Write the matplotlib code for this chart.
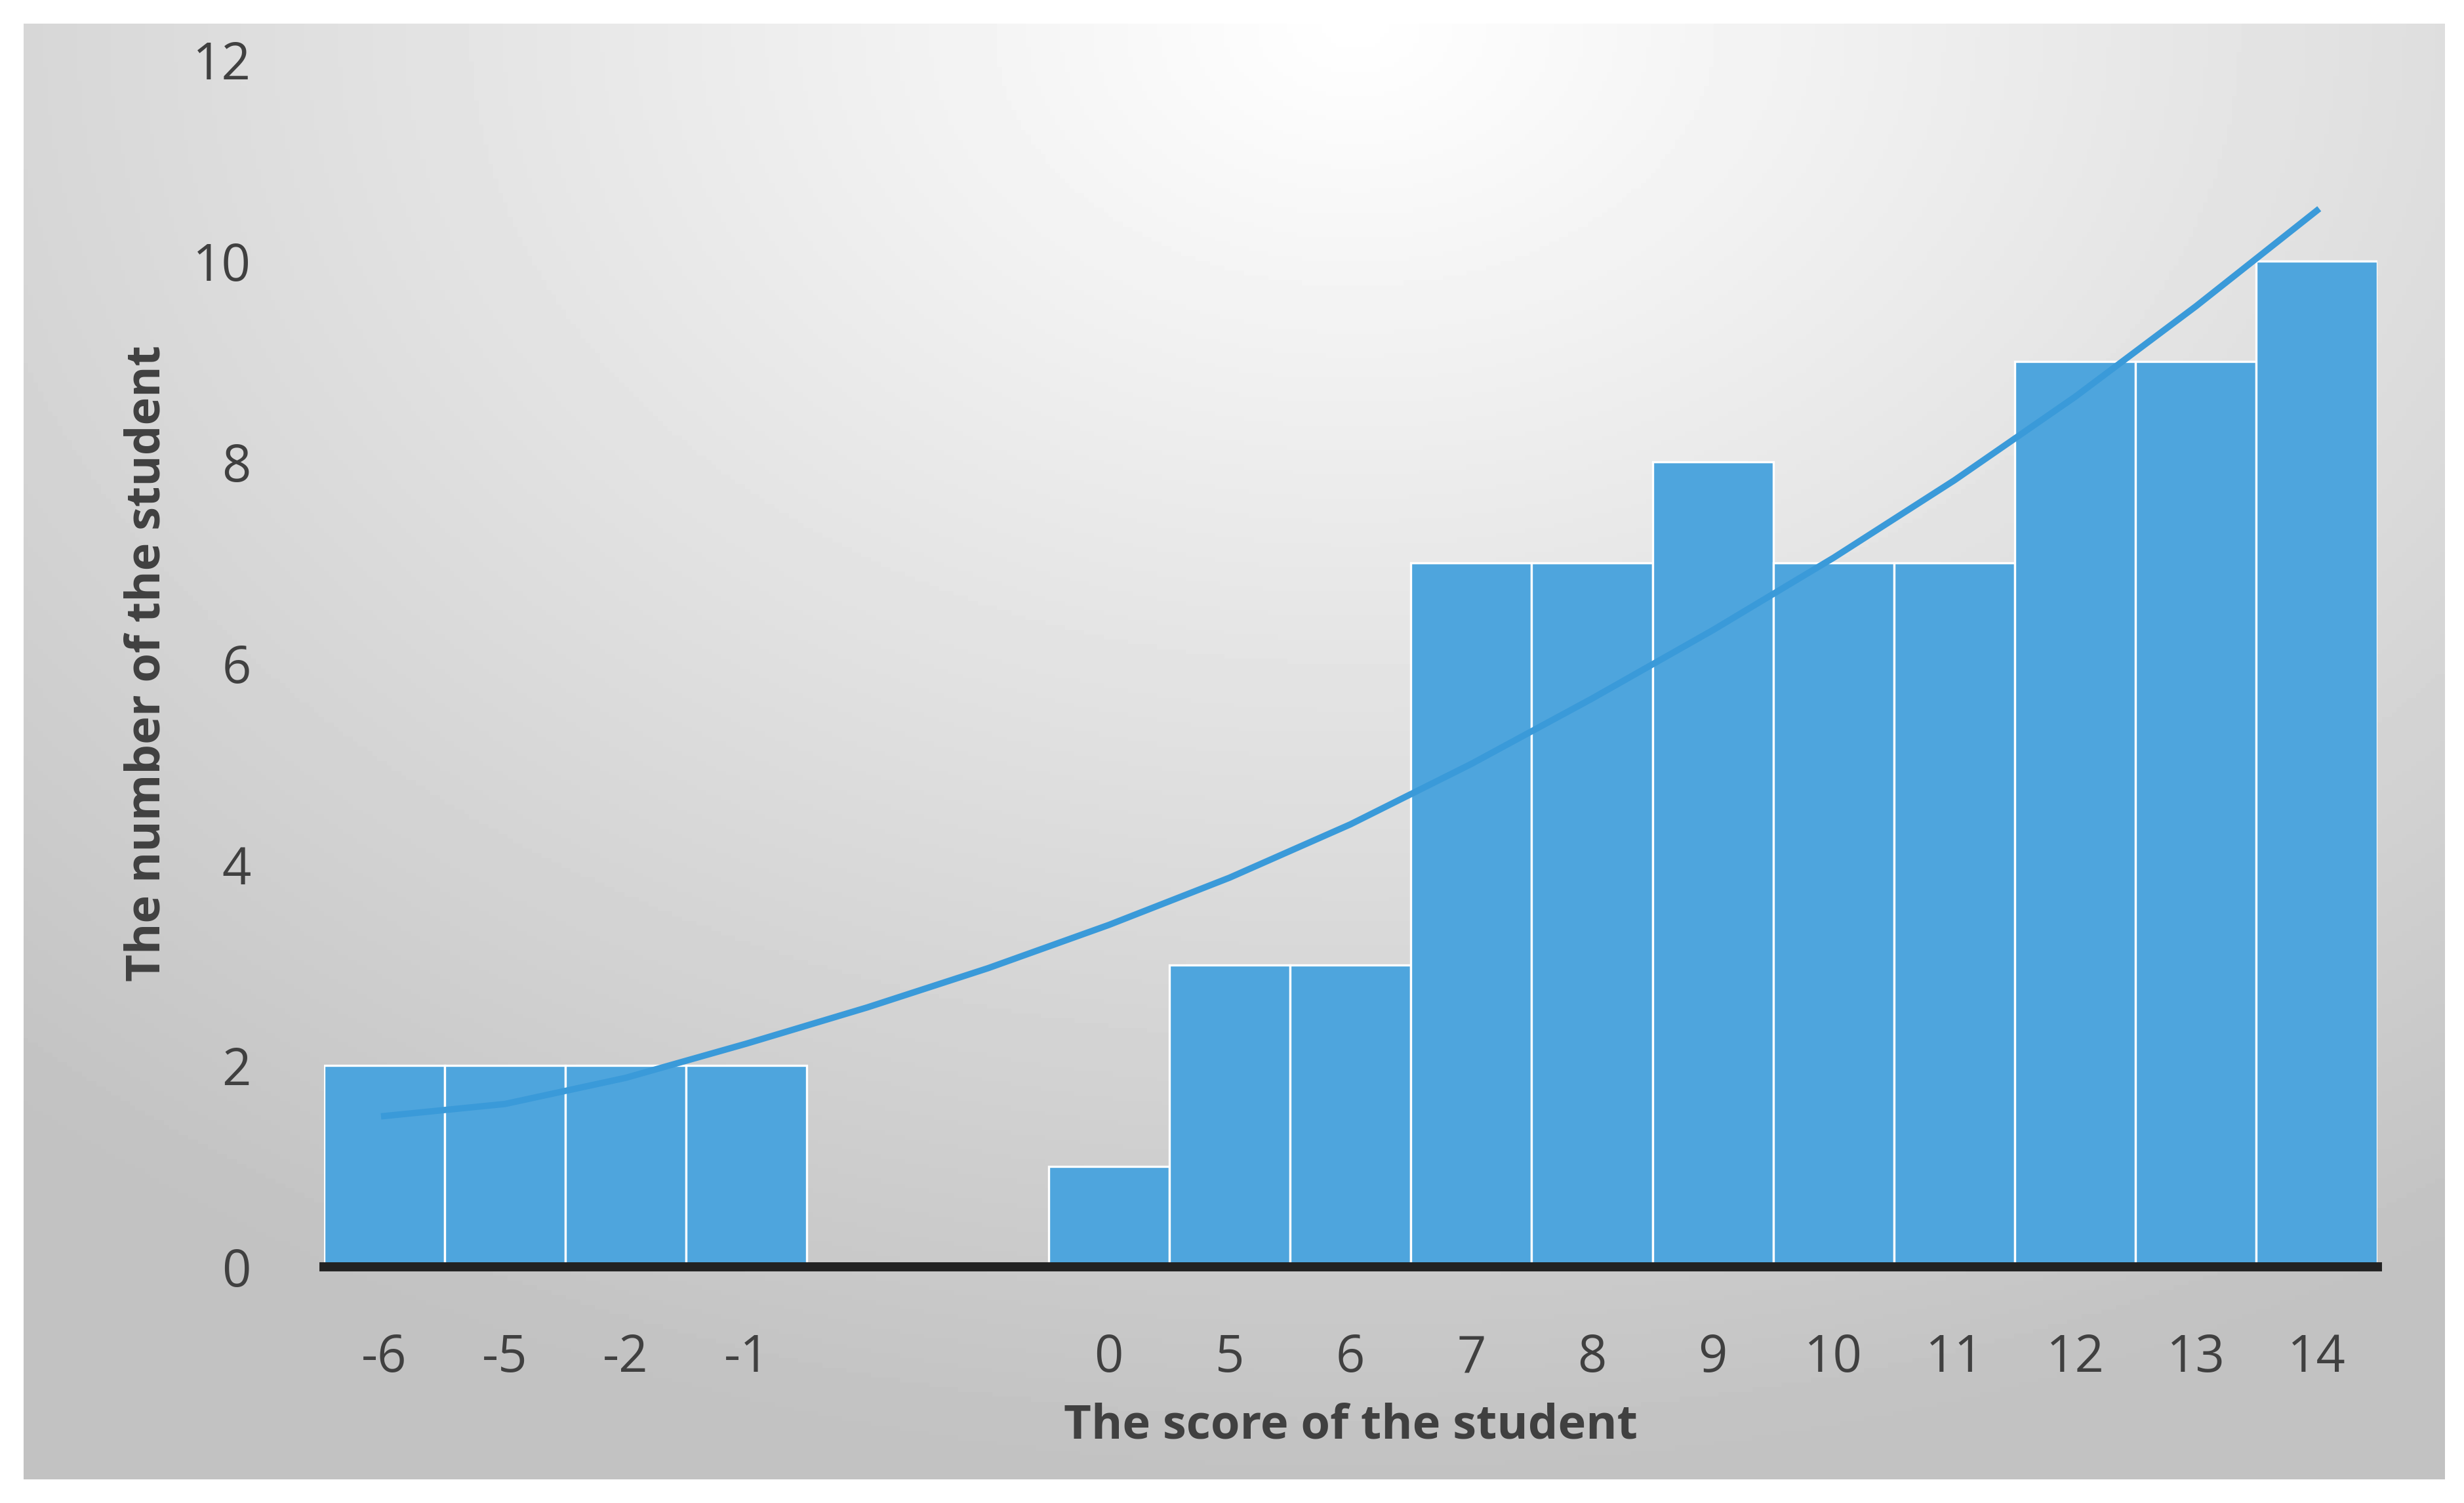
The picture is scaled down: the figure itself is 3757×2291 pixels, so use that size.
import numpy as np
import matplotlib.pyplot as plt

# categories on the x axis; two empty slots between -1 and 0
categories = ['-6', '-5', '-2', '-1', '', '', '0', '5', '6', '7', '8', '9', '10', '11', '12', '13', '14']
counts = [2, 2, 2, 2, 0, 0, 1, 3, 3, 7, 7, 8, 7, 7, 9, 9, 10]
# trend line, one value per slot
trend = [1.5, 1.62, 1.88, 2.22, 2.58, 2.97, 3.4, 3.87, 4.4, 5.0, 5.65, 6.33, 7.05, 7.82, 8.65, 9.55, 10.5]

fig = plt.figure(figsize=(18.785, 11.455), dpi=200)

# gray radial background panel
bg = fig.add_axes([15/1560, 15/955, 1533/1560, 925/955])
yy, xx = np.mgrid[0:1:300j, 0:1:500j]
r = np.sqrt(((xx - 0.55) * 1.2) ** 2 + (yy - 0.0) ** 2)
shade = np.clip(1.0 - 0.24 * r, 0.76, 1.0)
bg.imshow(shade, cmap='gray', vmin=0, vmax=1, aspect='auto', extent=[0, 1, 0, 1])
bg.axis('off')

ax = fig.add_axes([205/1560, 1 - 805/955, 1300/1560, (805-38)/955])
ax.patch.set_alpha(0)
x = np.arange(len(categories))
ax.bar(x, counts, width=1.0, color='#4EA5DD', edgecolor='white', linewidth=1.2, zorder=2)
ax.plot(x, trend, color='#3A9AD9', linewidth=3.5, zorder=3)

ax.set_xlim(-0.5, len(categories) - 0.5)
ax.set_ylim(0, 12)
ax.set_yticks(range(0, 13, 2))
ax.set_xticks(x)
ax.set_xticklabels(categories)
ax.tick_params(length=0, labelsize=28, colors='#404040')
ax.tick_params(axis='x', pad=36)
ax.tick_params(axis='y', pad=40)
for s in ['top', 'right', 'left']:
    ax.spines[s].set_visible(False)
ax.spines['bottom'].set_linewidth(5)
ax.spines['bottom'].set_color('#222222')
ax.spines['bottom'].set_zorder(4)
for t in ax.get_xticklabels() + ax.get_yticklabels():
    t.set_family(['Open Sans', 'DejaVu Sans'])

ax.set_xlabel('The score of the student', fontsize=26, fontweight='bold', color='#404040',
              family=['Open Sans', 'DejaVu Sans'], labelpad=10)
ax.set_ylabel('The number of the student', fontsize=26, fontweight='bold', color='#404040',
              family=['Open Sans', 'DejaVu Sans'], labelpad=12)

fig.savefig('out.png', dpi=200)
